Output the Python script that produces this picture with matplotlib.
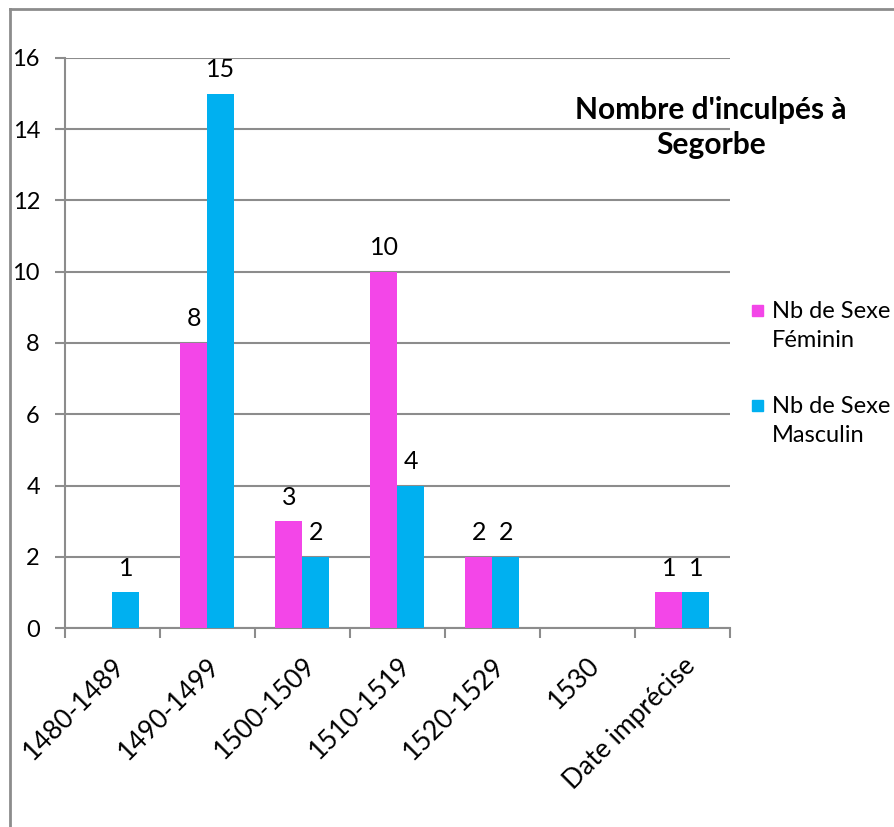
import matplotlib.pyplot as plt
from matplotlib.lines import Line2D
from matplotlib.patches import Rectangle
import numpy as np

plt.rcParams['font.family'] = ['Lato', 'DejaVu Sans']

categories = ['1480-1489', '1490-1499', '1500-1509', '1510-1519',
              '1520-1529', '1530', 'Date imprécise']
feminin = [0, 8, 3, 10, 2, 0, 1]
masculin = [1, 15, 2, 4, 2, 0, 1]
series_names = ['Nb de Sexe\nFéminin', 'Nb de Sexe\nMasculin']
colors = ['#F346E8', '#00B0F0']
grey = '#8c8c8c'

fig = plt.figure(figsize=(8.95, 8.27), dpi=100)
ax = fig.add_axes([0.0726, 0.2406, 0.743, 0.6893])

# cadre du graphique
fig.add_artist(Line2D([0.0112, 0.0112], [0, 0.9891], color=grey, lw=2))
fig.add_artist(Line2D([0.0112, 1], [0.9891, 0.9891], color=grey, lw=2))

x = np.arange(len(categories))
w = 0.284
bars_f = ax.bar(x - w / 2, feminin, w, color=colors[0], zorder=3)
bars_m = ax.bar(x + w / 2, masculin, w, color=colors[1], zorder=3)

# étiquettes de données (sauf les zéros)
for bars, vals in [(bars_f, feminin), (bars_m, masculin)]:
    for b, v in zip(bars, vals):
        if v > 0:
            ax.annotate(str(v), (b.get_x() + b.get_width() / 2, v),
                        xytext=(0, 9), textcoords='offset points',
                        ha='center', va='bottom', fontsize=18)

ax.set_xlim(-0.5, len(categories) - 0.5)
ax.set_ylim(0, 16)
ax.set_yticks(range(0, 17, 2))
ax.yaxis.grid(True, color=grey, lw=1.5, zorder=0)
ax.tick_params(axis='y', length=7, color=grey, width=1.5, labelsize=17, pad=11)

ax.set_xticks(np.arange(len(categories) + 1) - 0.5, minor=True)
ax.set_xticks(x)
ax.set_xticklabels(categories, rotation=45, ha='right', va='top',
                   rotation_mode='anchor', fontsize=19)
ax.tick_params(axis='x', which='major', length=0, pad=18)
ax.tick_params(axis='x', which='minor', length=7, color=grey, width=1.5)

for s in ['top', 'right']:
    ax.spines[s].set_visible(False)
for s in ['left', 'bottom']:
    ax.spines[s].set_color(grey)
    ax.spines[s].set_linewidth(1.5)

fig.text(0.794, 0.846, "Nombre d'inculpés à\nSegorbe", ha='center', va='center',
         fontsize=21.5, fontweight='bold', linespacing=1.3)

# légende à la manière d'Excel : carré aligné sur la première ligne
leg_y = [310, 405]
for name, col, yy in zip(series_names, colors, leg_y):
    fy = 1 - yy / 827
    fig.add_artist(Rectangle((752 / 895, fy - 5.5 / 827), 11 / 895, 11 / 827,
                             color=col, transform=fig.transFigure))
    fig.text(772 / 895, 1 - (yy - 9) / 827, name, ha='left', va='top',
             fontsize=17, linespacing=1.45)

fig.savefig('out.png', dpi=100)
